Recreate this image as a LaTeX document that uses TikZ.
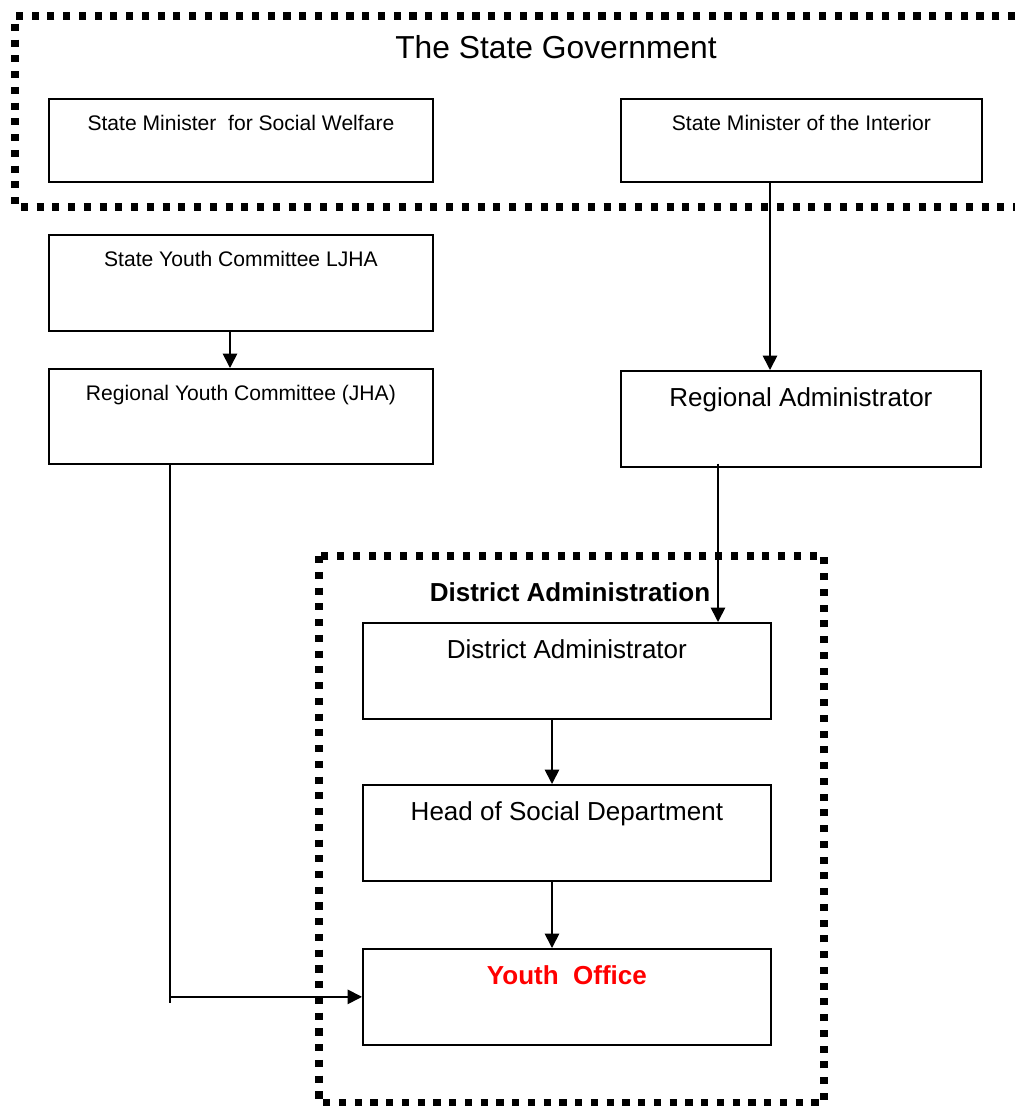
\documentclass[tikz,border=0pt]{standalone}
\usepackage{fontspec}
\setmainfont{Liberation Sans}
\usetikzlibrary{arrows.meta}
\definecolor{OfficeRed}{HTML}{FF0000}
\tikzset{
  every picture/.style={line width=1.2pt},
  orgbox/.style={
    draw=black,
    anchor=north west,
    inner sep=0pt,
    font=\fontsize{15}{18}\selectfont,
    text height=8mm
  },
  bigbox/.style={orgbox, font=\fontsize{18.5}{22}\selectfont, text height=8.9mm},
  officebox/.style={bigbox, font=\fontsize{18.5}{22}\selectfont\bfseries, text=OfficeRed},
  dotframe/.style={line width=5pt, dash pattern=on 5pt off 6.2pt},
  orgarrow/.style={-{Triangle[length=3.6mm,width=3.6mm]}},
  titletext/.style={font=\fontsize{22.6}{26}\selectfont, inner sep=0pt},
  headtext/.style={font=\fontsize{18.5}{22}\selectfont\bfseries, inner sep=0pt}
}
\begin{document}
\begin{tikzpicture}[x=0.025cm,y=-0.025cm]
  \useasboundingbox (0,0) rectangle (1015,1106);

  \draw[dotframe] (1015,16) -- (15,16) -- (15,207) -- (1015,207);
  \node[titletext] (govt) at (556,47) {The State Government};

  \node[orgbox, minimum width=96mm, text depth=12.75mm] (welfare) at (48,98) {State Minister~~for Social Welfare};
  \node[orgbox, minimum width=90.25mm, text depth=12.75mm] (interior) at (620,98) {State Minister of the Interior};

  \node[orgbox, minimum width=96mm, text depth=16mm] (stateyc) at (48,234) {State Youth Committee LJHA};
  \node[orgbox, minimum width=96mm, text depth=15.75mm] (regyc) at (48,368) {Regional Youth Committee (JHA)};
  \node[bigbox, minimum width=90mm, text depth=15.1mm] (regadmin) at (620,370) {Regional Administrator};

  \draw[dotframe] (319,556) rectangle (824,1103);
  \node[headtext] (district) at (570,592) {District Administration};

  \node[bigbox, minimum width=102mm, text depth=15.1mm] (distadmin) at (362,622) {District Administrator};
  \node[bigbox, minimum width=102mm, text depth=15.1mm] (social) at (362,784) {Head of Social Department};
  \node[officebox, minimum width=102mm, text depth=15.1mm] (youth) at (362,948) {Youth~~Office};

  \coordinate (tail) at (170,1003);

  \draw[orgarrow] (interior.south -| 770,0) -- (regadmin.north -| 770,0);
  \draw[orgarrow] (stateyc.south -| 230,0) -- (regyc.north -| 230,0);
  \draw[orgarrow] ([yshift=1mm]regadmin.south -| 718,0) -- (distadmin.north -| 718,0);
  \draw[orgarrow] (distadmin.south -| 552,0) -- (social.north -| 552,0);
  \draw[orgarrow] (social.south -| 552,0) -- (youth.north -| 552,0);
  \draw (regyc.south -| tail) -- (tail);
  \draw[orgarrow] (tail |- youth.west) -- (youth.west);
\end{tikzpicture}
\end{document}
